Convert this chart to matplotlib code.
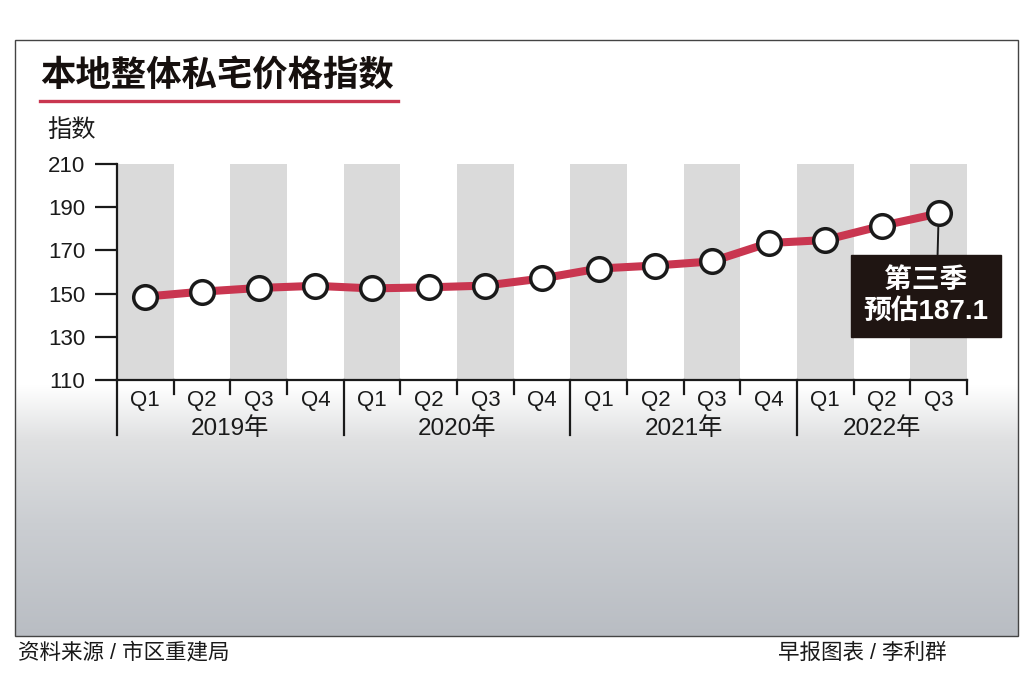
"""
本地整体私宅价格指数 -- quarterly URA private residential price index,
2019Q1 to 2022Q3 (flash estimate), drawn to out.png.
"""
import numpy as np
import matplotlib
matplotlib.use("Agg")
import matplotlib.pyplot as plt
from matplotlib.patches import Rectangle
from matplotlib.colors import LinearSegmentedColormap

# Latin glyphs in a Helvetica-like face, CJK falls through to Noto
plt.rcParams["font.family"] = ["Liberation Sans", "Noto Sans CJK SC", "DejaVu Sans"]

# data
years = ["2019年", "2020年", "2021年", "2022年"]
quarters_per_year = [4, 4, 4, 3]
quarter_labels = ["Q1", "Q2", "Q3", "Q4"] * 3 + ["Q1", "Q2", "Q3"]
index_values = [148.6, 150.9, 152.6, 153.6,
                152.4, 152.9, 153.7, 157.0,
                161.6, 163.0, 164.9, 173.4,
                174.8, 181.4, 187.1]
y_ticks = [110, 130, 150, 170, 190, 210]
title = "本地整体私宅价格指数"
y_label = "指数"
note_text = "第三季\n预估187.1"
source_text = "资料来源 / 市区重建局"
credit_text = "早报图表 / 李利群"

RED = "#c93650"
BAND = "#dadada"
INK = "#1a1a1a"
BOX = "#1f1512"

W, H = 1024, 682
fig = plt.figure(figsize=(W / 100, H / 100), dpi=100)
fig.patch.set_facecolor("white")


def fx(px):
    return px / W


def fy(py):
    return 1 - py / H


# faded city-photo stand-in under the axis labels
bg = fig.add_axes([fx(15), fy(636), fx(1018) - fx(15), fy(385) - fy(636)])
bg.set_zorder(0)
grad = np.linspace(0, 1, 256).reshape(-1, 1)
cmap = LinearSegmentedColormap.from_list(
    "photo", [(0, "#b9bdc3"), (0.45, "#cbced2"), (0.78, "#dfe0e1"), (1, "#ffffff")])
bg.imshow(grad, aspect="auto", cmap=cmap, origin="lower", extent=[0, 1, 0, 1])
bg.set_axis_off()

# main chart
ax = fig.add_axes([fx(117), fy(380), fx(967) - fx(117), fy(164) - fy(380)])
ax.set_zorder(2)
ax.set_facecolor("none")
n = len(index_values)
x = np.arange(n)
ax.set_xlim(-0.5, n - 0.5)
ax.set_ylim(y_ticks[0], y_ticks[-1])

for i in range(0, n, 2):
    ax.axvspan(i - 0.5, i + 0.5, color=BAND, lw=0, zorder=0)

ax.plot(x, index_values, color=RED, lw=5.8, solid_capstyle="round", zorder=3)
ax.plot(x, index_values, ls="none", marker="o", ms=17, mfc="white",
        mec=INK, mew=2.5, zorder=4)

for s in ["top", "right"]:
    ax.spines[s].set_visible(False)
for s in ["left", "bottom"]:
    ax.spines[s].set_color(INK)
    ax.spines[s].set_linewidth(1.6)
ax.spines["bottom"].set_zorder(5)

ax.set_yticks(y_ticks, [str(v) for v in y_ticks])
ax.tick_params(axis="y", length=16, width=1.6, color=INK, pad=7,
               labelsize=16, labelcolor=INK)
ax.set_xticks([])

# quarter / year axis drawn by hand
xt = ax.get_xaxis_transform()
edges = np.arange(n + 1) - 0.5
year_starts = np.cumsum([0] + quarters_per_year[:-1])
for e in edges:
    long_tick = (e + 0.5) in year_starts
    ax.plot([e, e], [0, -0.255 if long_tick else -0.065], transform=xt,
            color=INK, lw=1.6, clip_on=False, zorder=5)
for i, q in enumerate(quarter_labels):
    ax.text(i, -0.095, q, transform=xt, ha="center", va="center",
            fontsize=16, color=INK)
for start, cnt, yr in zip(year_starts, quarters_per_year, years):
    ax.text(start + cnt / 2 - 0.5, -0.225, yr, transform=xt,
            ha="center", va="center", fontsize=17.5, color=INK)

# callout for the flash estimate
ax.annotate(note_text, xy=(x[-1], index_values[-1]),
            xytext=(926, H - 296), textcoords="figure pixels",
            ha="center", va="center", fontsize=20, fontweight="bold",
            color="white", linespacing=1.25, zorder=6,
            bbox=dict(boxstyle="square,pad=0.45", fc=BOX, ec=BOX),
            arrowprops=dict(arrowstyle="-", color=INK, lw=1.4,
                            relpos=(0.59, 1.0), shrinkA=0, shrinkB=10))

# titles, labels, frame
fig.text(fx(40), fy(76), title, fontsize=25.5, fontweight="black",
         family="Noto Sans CJK SC", color="#16100e", va="center", ha="left")
fig.add_artist(plt.Line2D([fx(40), fx(398)], [fy(101), fy(101)],
                          color=RED, lw=2.4))
fig.text(fx(47), fy(130), y_label, fontsize=17.5, color=INK,
         family="Noto Sans CJK SC", va="center", ha="left")
fig.add_artist(Rectangle((fx(15), fy(636)), fx(1018) - fx(15),
                         fy(40) - fy(636), fill=False, ec="#444444",
                         lw=1.0, zorder=10))
fig.text(fx(18), fy(653), source_text, fontsize=15.5, color=INK,
         va="center", ha="left")
fig.text(fx(778), fy(653), credit_text, fontsize=15.5, color=INK,
         va="center", ha="left")

fig.savefig("out.png", dpi=100)
plt.close(fig)
